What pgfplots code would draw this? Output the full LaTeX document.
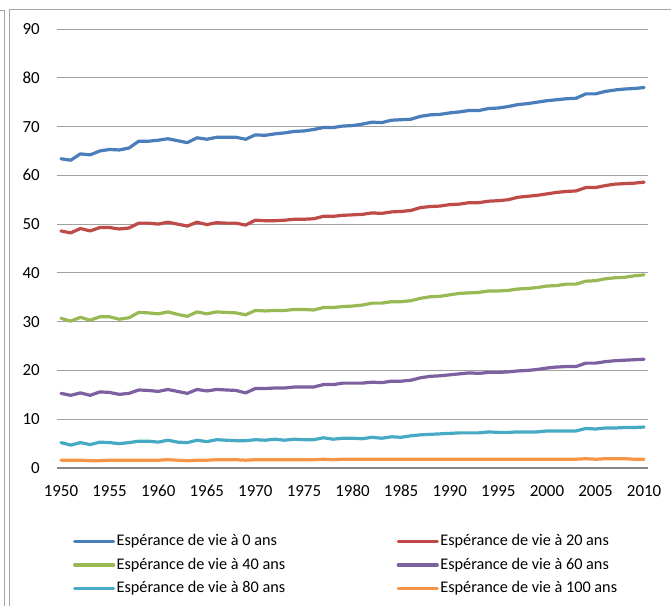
\documentclass[border=0pt]{standalone}
\usepackage{pgfplots}
\usepackage{pgfplotstable}
\pgfplotsset{compat=1.18}
\usepackage{fontspec}
\setmainfont{Carlito}
\definecolor{cB}{HTML}{4A7EBB}
\definecolor{cR}{HTML}{BE4B48}
\definecolor{cG}{HTML}{98B954}
\definecolor{cP}{HTML}{7D60A0}
\definecolor{cC}{HTML}{46AAC5}
\definecolor{cO}{HTML}{F69546}
\definecolor{gridc}{HTML}{A0A0A0}
\definecolor{axc}{HTML}{868686}
\definecolor{framec}{HTML}{A6A6A6}
\pgfplotstableread{
year b r g p c o
1950 63.4 48.6 30.7 15.3 5.2 1.6
1951 63.1 48.2 30.1 14.9 4.7 1.6
1952 64.4 49.1 30.9 15.4 5.2 1.6
1953 64.2 48.6 30.3 14.9 4.8 1.5
1954 65.0 49.3 31.0 15.6 5.3 1.5
1955 65.3 49.3 31.0 15.5 5.2 1.6
1956 65.2 49.0 30.5 15.1 5.0 1.6
1957 65.6 49.2 30.8 15.3 5.2 1.6
1958 67.0 50.2 31.9 16.0 5.5 1.6
1959 67.0 50.2 31.8 15.9 5.5 1.6
1960 67.2 50.0 31.6 15.7 5.3 1.6
1961 67.5 50.4 32.0 16.1 5.7 1.7
1962 67.1 50.0 31.5 15.7 5.3 1.6
1963 66.7 49.6 31.1 15.3 5.2 1.5
1964 67.7 50.4 32.0 16.1 5.7 1.6
1965 67.4 49.9 31.6 15.8 5.4 1.6
1966 67.8 50.3 32.0 16.1 5.8 1.7
1967 67.8 50.2 31.9 16.0 5.7 1.7
1968 67.8 50.2 31.8 15.9 5.6 1.7
1969 67.4 49.8 31.4 15.4 5.6 1.6
1970 68.3 50.8 32.3 16.3 5.8 1.7
1971 68.2 50.7 32.2 16.3 5.7 1.7
1972 68.5 50.7 32.3 16.4 5.9 1.7
1973 68.7 50.8 32.3 16.4 5.7 1.7
1974 69.0 51.0 32.5 16.6 5.9 1.7
1975 69.1 51.0 32.5 16.6 5.8 1.7
1976 69.4 51.1 32.4 16.6 5.8 1.7
1977 69.8 51.6 32.9 17.1 6.2 1.8
1978 69.8 51.6 32.9 17.1 5.9 1.7
1979 70.1 51.8 33.1 17.4 6.1 1.8
1980 70.2 51.9 33.2 17.4 6.1 1.8
1981 70.5 52.0 33.4 17.4 6.0 1.8
1982 70.9 52.3 33.8 17.6 6.3 1.8
1983 70.8 52.2 33.8 17.5 6.1 1.8
1984 71.3 52.5 34.1 17.8 6.4 1.8
1985 71.4 52.6 34.1 17.8 6.3 1.8
1986 71.5 52.8 34.3 18.0 6.6 1.8
1987 72.1 53.4 34.8 18.5 6.8 1.8
1988 72.4 53.6 35.1 18.8 6.9 1.8
1989 72.5 53.7 35.2 18.9 7.0 1.8
1990 72.8 54.0 35.5 19.1 7.1 1.8
1991 73.0 54.1 35.8 19.3 7.2 1.8
1992 73.3 54.4 35.9 19.5 7.2 1.8
1993 73.3 54.4 36.0 19.4 7.2 1.8
1994 73.7 54.7 36.3 19.6 7.4 1.8
1995 73.8 54.8 36.3 19.6 7.3 1.8
1996 74.1 55.0 36.4 19.7 7.3 1.8
1997 74.5 55.5 36.7 19.9 7.4 1.8
1998 74.7 55.7 36.8 20.0 7.4 1.8
1999 75.0 55.9 37.0 20.2 7.4 1.8
2000 75.3 56.2 37.3 20.5 7.6 1.8
2001 75.5 56.5 37.4 20.7 7.6 1.8
2002 75.7 56.7 37.7 20.8 7.6 1.8
2003 75.8 56.8 37.7 20.8 7.6 1.8
2004 76.7 57.5 38.3 21.5 8.1 1.9
2005 76.7 57.5 38.4 21.5 8.0 1.8
2006 77.2 57.9 38.8 21.8 8.2 1.9
2007 77.5 58.2 39.0 22.0 8.2 1.9
2008 77.7 58.3 39.1 22.1 8.3 1.9
2009 77.8 58.4 39.4 22.2 8.3 1.8
2010 78.0 58.6 39.6 22.3 8.4 1.8
}\data
\begin{document}
\begin{tikzpicture}
\useasboundingbox (-57bp,-138bp) rectangle (614bp,468bp);
\draw[framec, line width=1bp] (-47bp,-140bp) -- (-47bp,458.7bp) -- (616bp,458.7bp);
\draw[framec, line width=0.8bp] (-60bp,458bp) -- (-52.5bp,458bp) -- (-52.5bp,-140bp);
\begin{axis}[
  at={(0,0)}, anchor=south west,
  width=591bp, height=439bp, scale only axis,
  xmin=1949.59, xmax=2010.4, ymin=0, ymax=90,
  xtick={1950,1955,...,2010}, ytick={0,10,...,90},
  major tick length=0pt,
  axis x line*=bottom, axis y line*=left,
  x axis line style={axc, line width=1.6bp},
  y axis line style={draw=none},
  ymajorgrids, grid style={gridc, line width=0.9bp},
  /pgf/number format/assume math mode=true,
  xticklabel style={/pgf/number format/1000 sep={}, anchor=north, inner sep=0pt, yshift=-17bp},
  yticklabel style={anchor=east, inner sep=0pt, xshift=-17bp},
  tick label style={font=\fontsize{17}{20}\selectfont, text=black},
  clip=false,
  legend columns=2,
  legend style={at={(0,0)}, anchor=north west, xshift=16bp, yshift=-65.2bp,
    draw=none, fill=none, inner sep=0pt, outer sep=0pt,
    font=\fontsize{16.3}{19}\selectfont,
    nodes={text height=11bp, text depth=3bp, inner xsep=1.5bp, inner ysep=1.5bp},
    row sep=6.3bp,
    /tikz/every odd column/.style={column sep=0bp},
    /tikz/every even column/.style={column sep=110bp}},
  legend cell align=left,
  legend image code/.code={\draw[#1] (0bp,0bp) -- (39bp,0bp);},
  every axis plot/.append style={line width=3.2bp, line join=round, line cap=round},
]
\addplot[cB] table[x=year,y=b]{\data};
\addlegendentry{Espérance de vie à 0 ans}
\addplot[cR] table[x=year,y=r]{\data};
\addlegendentry{Espérance de vie à 20 ans}
\addplot[cG] table[x=year,y=g]{\data};
\addlegendentry{Espérance de vie à 40 ans}
\addplot[cP] table[x=year,y=p]{\data};
\addlegendentry{Espérance de vie à 60 ans}
\addplot[cC] table[x=year,y=c]{\data};
\addlegendentry{Espérance de vie à 80 ans}
\addplot[cO] table[x=year,y=o]{\data};
\addlegendentry{Espérance de vie à 100 ans}
\end{axis}
\end{tikzpicture}
\end{document}
